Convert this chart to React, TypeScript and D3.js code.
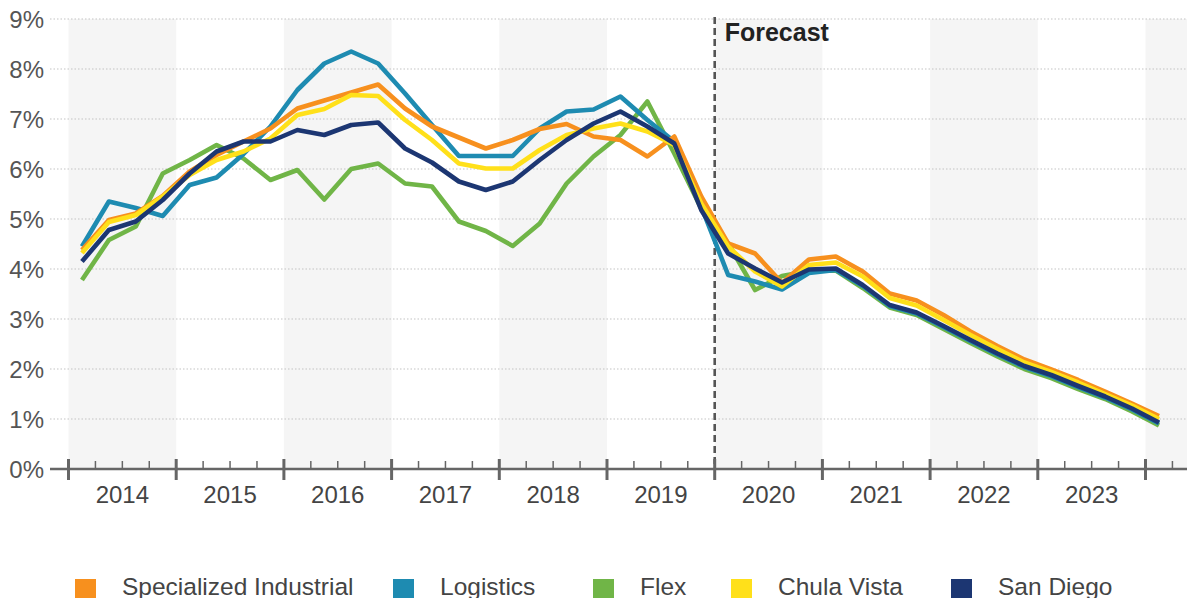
import { useEffect, useRef } from "react";
import * as d3 from "d3";

const quarters = [
  "2014Q1", "2014Q2", "2014Q3", "2014Q4", "2015Q1", "2015Q2", "2015Q3", "2015Q4",
  "2016Q1", "2016Q2", "2016Q3", "2016Q4", "2017Q1", "2017Q2", "2017Q3", "2017Q4",
  "2018Q1", "2018Q2", "2018Q3", "2018Q4", "2019Q1", "2019Q2", "2019Q3", "2019Q4",
  "2020Q1", "2020Q2", "2020Q3", "2020Q4", "2021Q1", "2021Q2", "2021Q3", "2021Q4",
  "2022Q1", "2022Q2", "2022Q3", "2022Q4", "2023Q1", "2023Q2", "2023Q3", "2023Q4",
  "2024Q1",
];
const yearLabels = ["2014", "2015", "2016", "2017", "2018", "2019", "2020", "2021", "2022", "2023"];
const yTicks = [0, 1, 2, 3, 4, 5, 6, 7, 8, 9];
const forecastStart = "2020Q1";

const specialized = [
  4.38, 4.98, 5.11, 5.46, 5.95, 6.28, 6.55, 6.81, 7.21, 7.37, 7.53, 7.69, 7.21, 6.85, 6.63, 6.41,
  6.58, 6.8, 6.9, 6.65, 6.58, 6.25, 6.65, 5.45, 4.51, 4.31, 3.72, 4.19, 4.25, 3.95, 3.51, 3.37,
  3.08, 2.75, 2.46, 2.19, 1.99, 1.78, 1.55, 1.31, 1.06,
];
const logistics = [
  4.45, 5.35, 5.22, 5.06, 5.68, 5.83, 6.3, 6.85, 7.58, 8.11, 8.35, 8.11, 7.51, 6.88, 6.26, 6.26,
  6.26, 6.81, 7.15, 7.19, 7.45, 6.98, 6.55, 5.25, 3.88, 3.75, 3.59, 3.92, 3.98, 3.66, 3.26, 3.11,
  2.84, 2.56, 2.29, 2.04, 1.86, 1.64, 1.43, 1.19, 0.91,
];
const flex = [
  3.78, 4.58, 4.85, 5.91, 6.18, 6.48, 6.21, 5.78, 5.98, 5.39, 6.0, 6.11, 5.71, 5.65, 4.95, 4.76,
  4.46, 4.91, 5.71, 6.25, 6.68, 7.35, 6.31, 5.21, 4.51, 3.58, 3.86, 3.96, 3.97, 3.62, 3.23, 3.08,
  2.8, 2.52, 2.25, 2.0, 1.82, 1.6, 1.4, 1.15, 0.87,
];
const chulaVista = [
  4.32, 4.94, 5.08, 5.45, 5.88, 6.18, 6.35, 6.61, 7.08, 7.2, 7.48, 7.46, 6.98, 6.58, 6.11, 6.01,
  6.01, 6.38, 6.68, 6.81, 6.91, 6.75, 6.48, 5.31, 4.45, 3.95, 3.65, 4.08, 4.13, 3.85, 3.42, 3.27,
  2.98, 2.68, 2.4, 2.13, 1.94, 1.73, 1.5, 1.27, 1.0,
];
const sanDiego = [
  4.15, 4.78, 4.95, 5.38, 5.91, 6.35, 6.55, 6.55, 6.78, 6.68, 6.88, 6.93, 6.41, 6.13, 5.75, 5.58,
  5.75, 6.18, 6.58, 6.91, 7.15, 6.85, 6.51, 5.18, 4.31, 4.01, 3.73, 3.99, 4.01, 3.68, 3.28, 3.13,
  2.86, 2.58, 2.31, 2.06, 1.88, 1.66, 1.45, 1.21, 0.93,
];

const legendNames = ["Specialized Industrial", "Logistics", "Flex", "Chula Vista", "San Diego"];
const legendColors = ["#F7901E", "#1E8BB1", "#70B547", "#FFE01A", "#1C3672"];
const legendValues = [specialized, logistics, flex, chulaVista, sanDiego];
// drawing order, bottom first
const drawOrder = [2, 1, 0, 3, 4];

const WIDTH = 1187;
const HEIGHT = 598;
const FONT = "'Liberation Sans', Arial, sans-serif";

function quarterToYear(q: string) {
  const yr = +q.slice(0, 4);
  const n = +q.slice(5);
  return yr + (n - 0.5) / 4;
}

export default function App() {
  const svgRef = useRef<SVGSVGElement>(null);

  useEffect(() => {
    if (!svgRef.current) return;
    const svg = d3.select(svgRef.current);
    svg.selectAll("*").remove();

    const plotLeft = 50;
    const plotRight = WIDTH;
    const x = d3.scaleLinear().domain([2014, 2024]).range([68.5, 1145.5]);
    const y = d3.scaleLinear().domain([0, 9]).range([469, 19]);
    const [domainStart, domainEnd] = [x.invert(plotLeft), x.invert(plotRight)];

    // alternating year bands
    const bandYears = d3.range(2014, Math.ceil(domainEnd), 2);
    svg.append("g")
      .selectAll("rect")
      .data(bandYears)
      .enter()
      .append("rect")
      .attr("x", (d) => x(d))
      .attr("y", y(9))
      .attr("width", (d) => Math.min(x(d + 1), plotRight) - x(d))
      .attr("height", y(0) - y(9))
      .style("fill", "#f5f5f5");

    // gridlines
    svg.append("g")
      .selectAll("line")
      .data(yTicks.filter((d) => d > 0))
      .enter()
      .append("line")
      .attr("x1", plotLeft)
      .attr("x2", plotRight)
      .attr("y1", (d) => y(d))
      .attr("y2", (d) => y(d))
      .style("stroke", "#c4c4c4")
      .style("stroke-width", 1.2)
      .style("stroke-dasharray", "1.5,2");

    // y labels
    svg.append("g")
      .selectAll("text")
      .data(yTicks)
      .enter()
      .append("text")
      .attr("x", 44)
      .attr("y", (d) => y(d) + 8.5)
      .attr("text-anchor", "end")
      .style("font-family", FONT)
      .style("font-size", "24px")
      .style("fill", "#555")
      .text((d) => `${d}%`);

    // forecast marker
    const fx = x(quarterToYear(forecastStart) - 0.125);
    svg.append("line")
      .attr("x1", fx)
      .attr("x2", fx)
      .attr("y1", y(9) - 2)
      .attr("y2", y(0))
      .style("stroke", "#555")
      .style("stroke-width", 2.6)
      .style("stroke-dasharray", "7,4");

    svg.append("text")
      .attr("x", fx + 10)
      .attr("y", 41)
      .style("font-family", FONT)
      .style("font-size", "25px")
      .style("font-weight", "700")
      .style("fill", "#222")
      .text("Forecast");

    // lines
    const line = d3.line<number>()
      .x((_, i) => x(quarterToYear(quarters[i])))
      .y((d) => y(d));

    drawOrder.forEach((k) => {
      svg.append("path")
        .datum(legendValues[k])
        .attr("d", line)
        .style("fill", "none")
        .style("stroke", legendColors[k])
        .style("stroke-width", 4.6)
        .style("stroke-linejoin", "round");
    });

    // x axis
    const axis = svg.append("g");
    axis.append("line")
      .attr("x1", plotLeft)
      .attr("x2", plotRight)
      .attr("y1", y(0))
      .attr("y2", y(0))
      .style("stroke", "#666")
      .style("stroke-width", 2.5);

    const minorTicks = d3.range(Math.ceil(domainStart * 4), Math.floor(domainEnd * 4) + 1)
      .map((d) => d / 4)
      .filter((d) => d % 1 !== 0);
    axis.selectAll(".minor")
      .data(minorTicks)
      .enter()
      .append("line")
      .attr("class", "minor")
      .attr("x1", (d) => x(d))
      .attr("x2", (d) => x(d))
      .attr("y1", y(0) - 8)
      .attr("y2", y(0))
      .style("stroke", "#666")
      .style("stroke-width", 1.5);

    const majorTicks = d3.range(2014, Math.floor(domainEnd) + 1);
    axis.selectAll(".major")
      .data(majorTicks)
      .enter()
      .append("line")
      .attr("class", "major")
      .attr("x1", (d) => x(d))
      .attr("x2", (d) => x(d))
      .attr("y1", y(0) - 10)
      .attr("y2", y(0) + 11)
      .style("stroke", "#666")
      .style("stroke-width", 3);

    axis.selectAll(".year")
      .data(yearLabels)
      .enter()
      .append("text")
      .attr("class", "year")
      .attr("x", (d) => x(+d + 0.5))
      .attr("y", 503)
      .attr("text-anchor", "middle")
      .style("font-family", FONT)
      .style("font-size", "24px")
      .style("fill", "#444")
      .text((d) => d);

    // legend
    const legendX = [75, 393, 593, 731, 951];
    const legend = svg.append("g").attr("transform", "translate(0, 579)");
    legendNames.forEach((name, i) => {
      const item = legend.append("g").attr("transform", `translate(${legendX[i]}, 0)`);
      item.append("rect")
        .attr("width", 21)
        .attr("height", 21)
        .style("fill", legendColors[i]);
      item.append("text")
        .attr("x", 47)
        .attr("y", 15.5)
        .style("font-family", FONT)
        .style("font-size", "24.5px")
        .style("fill", "#444")
        .text(name);
    });
  }, []);

  return (
    <svg
      ref={svgRef}
      width={WIDTH}
      height={HEIGHT}
      style={{ position: "absolute", left: 0, top: 0, background: "#fff" }}
    />
  );
}
